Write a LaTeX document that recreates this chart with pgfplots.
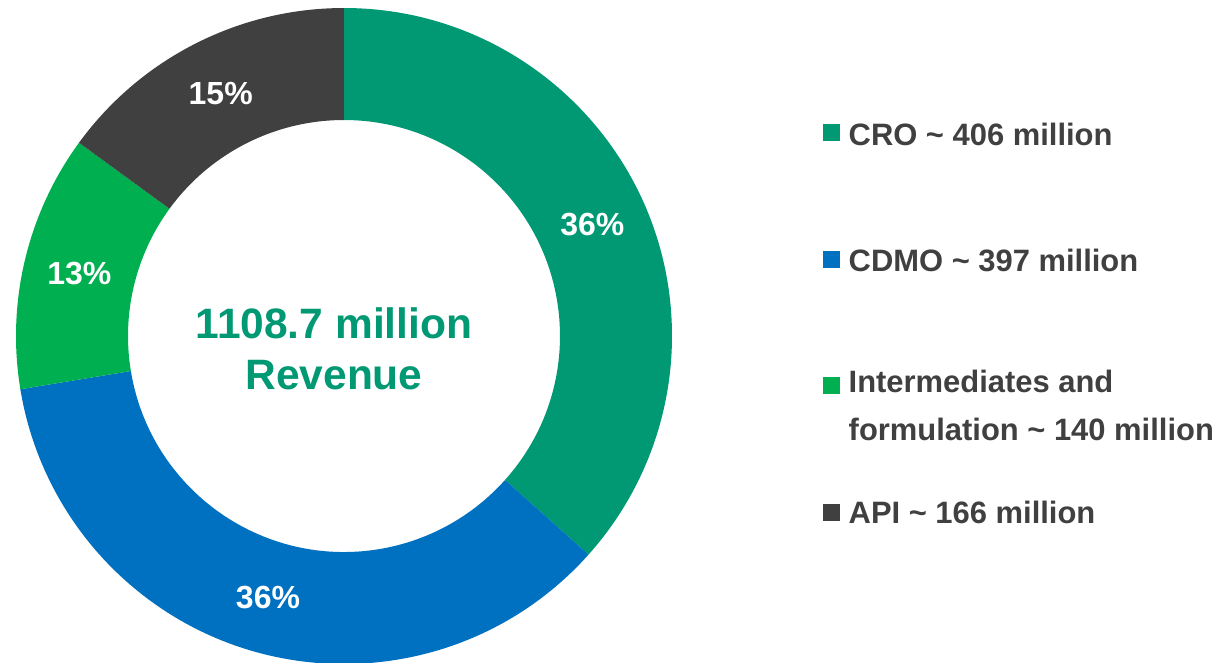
\documentclass[border=0pt]{standalone}
\usepackage{pgfplots}
\pgfplotsset{compat=1.18}
\usepackage{pgfplotstable}
\usepackage{fontspec}
\setmainfont{Liberation Sans}
\definecolor{crogreen}{RGB}{0,153,115}
\definecolor{cdmoblue}{RGB}{0,112,192}
\definecolor{intgreen}{RGB}{0,176,80}
\definecolor{apigray}{RGB}{64,64,64}
\definecolor{txtgray}{RGB}{64,64,64}

\pgfplotstableread{
seg value pct
CRO 406 36
CDMO 397 36
Intermediates 140 13
API 166 15
}\revtable

\begin{document}
\begin{tikzpicture}
% read values
\pgfplotstablegetelem{0}{value}\of\revtable \pgfmathsetmacro\va{\pgfplotsretval}
\pgfplotstablegetelem{1}{value}\of\revtable \pgfmathsetmacro\vb{\pgfplotsretval}
\pgfplotstablegetelem{2}{value}\of\revtable \pgfmathsetmacro\vc{\pgfplotsretval}
\pgfplotstablegetelem{3}{value}\of\revtable \pgfmathsetmacro\vd{\pgfplotsretval}
\pgfplotstablegetelem{0}{pct}\of\revtable \edef\pa{\pgfplotsretval}
\pgfplotstablegetelem{1}{pct}\of\revtable \edef\pb{\pgfplotsretval}
\pgfplotstablegetelem{2}{pct}\of\revtable \edef\pc{\pgfplotsretval}
\pgfplotstablegetelem{3}{pct}\of\revtable \edef\pd{\pgfplotsretval}
\pgfmathsetmacro\tot{\va+\vb+\vc+\vd}
\pgfmathsetmacro\aA{90}
\pgfmathsetmacro\aB{\aA-\va/\tot*360}
\pgfmathsetmacro\aC{\aB-\vb/\tot*360}
\pgfmathsetmacro\aD{\aC-\vc/\tot*360}
\pgfmathsetmacro\aE{\aD-\vd/\tot*360}
\pgfmathsetmacro\mA{(\aA+\aB)/2}
\pgfmathsetmacro\mB{(\aB+\aC)/2}
\pgfmathsetmacro\mC{(\aC+\aD)/2}
\pgfmathsetmacro\mD{(\aD+\aE)/2}
\def\Ro{3.28cm}
\def\Ri{2.16cm}
\def\Rm{2.72cm}
\begin{axis}[
  scale only axis,
  width=12.23cm, height=6.62cm,
  xmin=0, xmax=1223, ymin=0, ymax=662,
  hide axis,
]
\addplot[draw=none] coordinates {(0,0)};
\coordinate (SW) at (axis cs:0,0);
\coordinate (NE) at (axis cs:1223,662);
\begin{scope}[shift={(axis cs:344,326)}]
  \fill[crogreen] (\aA:\Ro) arc[start angle=\aA, end angle=\aB, radius=\Ro] -- (\aB:\Ri) arc[start angle=\aB, end angle=\aA, radius=\Ri] -- cycle;
  \fill[cdmoblue] (\aB:\Ro) arc[start angle=\aB, end angle=\aC, radius=\Ro] -- (\aC:\Ri) arc[start angle=\aC, end angle=\aB, radius=\Ri] -- cycle;
  \fill[intgreen] (\aC:\Ro) arc[start angle=\aC, end angle=\aD, radius=\Ro] -- (\aD:\Ri) arc[start angle=\aD, end angle=\aC, radius=\Ri] -- cycle;
  \fill[apigray] (\aD:\Ro) arc[start angle=\aD, end angle=\aE, radius=\Ro] -- (\aE:\Ri) arc[start angle=\aE, end angle=\aD, radius=\Ri] -- cycle;
  \begin{scope}[every node/.style={text=white, font=\bfseries\fontsize{9.1}{10}\selectfont, inner sep=0pt}]
    \node at (\mA:\Rm) {\pa\%};
    \node at (\mB:\Rm) {\pb\%};
    \node at (\mC:\Rm) {\pc\%};
    \node at (\mD:\Rm) {\pd\%};
  \end{scope}
\end{scope}
% centre text
\node[anchor=base, inner sep=0pt, text=crogreen, font=\bfseries\fontsize{12.1}{13}\selectfont] at (axis cs:334,324) {1108.7 million};
\node[anchor=base, inner sep=0pt, text=crogreen, font=\bfseries\fontsize{12.1}{13}\selectfont] at (axis cs:334,273) {Revenue};
% legend
\fill[crogreen] (axis cs:823,521) rectangle (axis cs:840,538);
\fill[cdmoblue] (axis cs:823,394) rectangle (axis cs:840,411);
\fill[intgreen] (axis cs:823,268) rectangle (axis cs:840,285);
\fill[apigray] (axis cs:823,141) rectangle (axis cs:840,158);
\begin{scope}[every node/.style={anchor=base west, inner sep=0pt, text=txtgray, font=\bfseries\fontsize{8.8}{10}\selectfont}]
  \node at (axis cs:848,517) {CRO \textasciitilde{} 406 million};
  \node at (axis cs:848,391) {CDMO \textasciitilde{} 397 million};
  \node at (axis cs:848,270) {Intermediates and};
  \node at (axis cs:848,222) {formulation \textasciitilde{} 140 million};
  \node at (axis cs:848,139) {API \textasciitilde{} 166 million};
\end{scope}
\end{axis}
\pgfresetboundingbox
\path (SW) rectangle (NE);
\end{tikzpicture}
\end{document}
